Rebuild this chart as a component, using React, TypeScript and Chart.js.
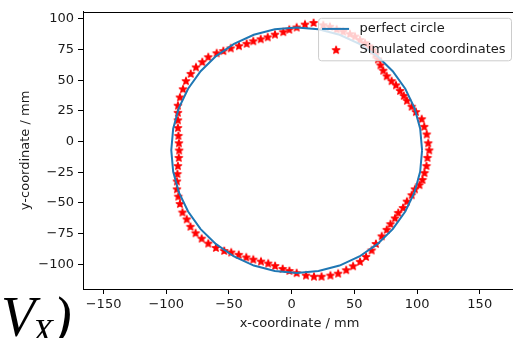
import React, { useEffect, useRef } from 'react';
import { Chart, registerables } from 'chart.js';

Chart.register(...registerables);

// Perfect circle outline (listed points)
const circleX = [104, 102.5, 98.0, 90.6, 80.6, 68.3, 54.0, 38.2, 21.4, 4.0, -13.4, -30.2, -46.0, -60.3, -72.6, -82.6, -90.0, -94.5, -96.0, -94.5, -90.0, -82.6, -72.6, -60.3, -46.0, -30.2, -13.4, 4.0, 21.4, 38.2, 54.0, 68.3, 80.6, 90.6, 98.0, 102.5, 104];
const circleY = [-7, 10.4, 27.2, 43.0, 57.3, 69.6, 79.6, 87.0, 91.5, 93.0, 91.5, 87.0, 79.6, 69.6, 57.3, 43.0, 27.2, 10.4, -7, -24.4, -41.2, -57.0, -71.3, -83.6, -93.6, -101.0, -105.5, -107.0, -105.5, -101.0, -93.6, -83.6, -71.3, -57.0, -41.2, -24.4, -7];

// Simulated coordinates
const starX = [17.5, 10.6, 4.0, -1.9, -6.7, -13.3, -19.1, -24.7, -30.6, -35.9, -42.0, -48.6, -54.5, -59.8, -66.5, -71.3, -76.3, -80.5, -84.3, -86.7, -89.1,
  -90.7, -90.7, -90.7, -90.7, -90.3, -89.9, -89.7, -90.0, -90.7, -91.1, -91.5, -91.5, -90.4,
  -89.1, -87.1, -83.7, -80.7, -76.6, -71.8, -66.5, -60.4, -53.8, -48.2, -42.2, -36.2, -30.6, -24.5, -18.7, -13.2, -7.2, -1.8, 4.0,
  11.4, 17.8, 23.8, 30.9, 37.1, 43.5, 49.0, 54.5, 59.3, 63.8, 67.2, 71.8, 75.8, 78.8, 82.4, 85.0, 88.8, 91.9, 95.7, 98.3, 101.9, 104.3, 105.9,
  107.5, 108.3, 109.7, 108.9, 107.7, 105.7, 103.7, 99.1, 95.7, 91.9, 89.4, 86.4, 83.2, 79.7, 75.8, 73.0, 70.8, 68.8, 66.8, 64.8, 61.9, 58.5, 54.5, 50.5, 46.5, 41.1, 35.9, 30.5, 25.2];
const starY = [96.6, 95.3, 92.9, 91.1, 89.1, 87.1, 84.9, 83.3, 81.7, 79.6, 77.7, 75.9, 73.7, 71.9, 68.7, 64.7, 60.4, 55.1, 49.2, 42.6, 35.9,
  29.2, 23.4, 17.3, 11.0, 4.6, -1.4, -7.3, -13.3, -20.0, -26.5, -32.5, -38.9, -44.9,
  -50.9, -57.8, -63.4, -69.4, -74.7, -79.1, -83.1, -86.7, -89.1, -90.4, -92.3, -94.4, -96.2, -97.8, -99.4, -101.4, -103.8, -105.4, -107.2,
  -109.2, -110.1, -110.1, -109.2, -107.6, -104.8, -101.6, -98.0, -94.0, -88.7, -83.4, -77.2, -71.9, -67.3, -62.6, -58.1, -54.1, -48.9, -43.7, -38.9, -35.5, -31.3, -25.7,
  -20.0, -13.3, -7.2, -1.4, 5.8, 12.0, 18.2, 24.0, 28.4, 33.2, 37.2, 41.2, 45.8, 49.2, 53.2, 57.7, 62.1, 66.9, 70.9, 74.3, 77.5, 80.1, 82.7, 85.5, 87.5, 89.5, 91.3, 93.5, 94.7];

const xTicks = [-150, -100, -50, 0, 50, 100, 150];
const yTicks = [-100, -75, -50, -25, 0, 25, 50, 75, 100];
const xRange = [-166.4, 178.9];
const yRange = [-120.1, 105.7];
const seriesLabels = ['perfect circle', 'Simulated coordinates'];

const FONT = "'DejaVu Sans', sans-serif";
const TEXT = '#1a1a1a';
const BLUE = '#1f77b4';
const RED = '#ff0000';

function makeStar(): HTMLCanvasElement {
  const c = document.createElement('canvas');
  c.width = 12;
  c.height = 12;
  const g = c.getContext('2d')!;
  g.beginPath();
  for (let k = 0; k < 10; k++) {
    const r = k % 2 === 0 ? 4.0 : 4.0 * 0.382;
    const a = -Math.PI / 2 + (k * Math.PI) / 5;
    const px = 6 + r * Math.cos(a);
    const py = 6 + r * Math.sin(a);
    if (k === 0) g.moveTo(px, py);
    else g.lineTo(px, py);
  }
  g.closePath();
  g.fillStyle = RED;
  g.fill();
  g.strokeStyle = RED;
  g.lineWidth = 1.2;
  g.lineJoin = 'round';
  g.stroke();
  return c;
}

const fmt = (v: number) => String(v).replace('-', '\u2212');

export default function App() {
  const ref = useRef<HTMLCanvasElement>(null);

  useEffect(() => {
    const canvas = ref.current!;
    const star = makeStar();

    const framePlugin = {
      id: 'frame',
      afterDraw(chart: any) {
        const { ctx, chartArea } = chart;
        ctx.save();
        ctx.strokeStyle = '#000';
        ctx.lineWidth = 1;
        ctx.beginPath();
        ctx.moveTo(chartArea.left, Math.round(chartArea.top) + 0.5);
        ctx.lineTo(chartArea.right, Math.round(chartArea.top) + 0.5);
        ctx.stroke();
        ctx.restore();
      },
    };

    const legendPlugin = {
      id: 'mplLegend',
      afterDatasetsDraw(chart: any) {
        const { ctx, chartArea } = chart;
        const labels: string[] = chart.data.datasets.map((d: any) => d.label);
        ctx.save();
        ctx.font = `13px ${FONT}`;
        const tw = Math.max(...labels.map((l) => ctx.measureText(l).width));
        const pad = 5;
        const handle = 26;
        const gap = 10;
        const w = pad + handle + gap + tw + pad + 1;
        const h = 42.5;
        const right = chartArea.right - 4.5;
        const top = chartArea.top + 6.5;
        const left = right - w;
        const r = 3;
        ctx.beginPath();
        ctx.moveTo(left + r, top);
        ctx.lineTo(right - r, top);
        ctx.arcTo(right, top, right, top + r, r);
        ctx.lineTo(right, top + h - r);
        ctx.arcTo(right, top + h, right - r, top + h, r);
        ctx.lineTo(left + r, top + h);
        ctx.arcTo(left, top + h, left, top + h - r, r);
        ctx.lineTo(left, top + r);
        ctx.arcTo(left, top, left + r, top, r);
        ctx.closePath();
        ctx.fillStyle = 'rgba(255,255,255,0.8)';
        ctx.fill();
        ctx.strokeStyle = '#cccccc';
        ctx.lineWidth = 1;
        ctx.stroke();

        const row1 = top + 10.6;
        const row2 = top + 31.8;
        ctx.strokeStyle = BLUE;
        ctx.lineWidth = 2;
        ctx.beginPath();
        ctx.moveTo(left + 3.5, row1);
        ctx.lineTo(left + 30.5, row1);
        ctx.stroke();
        ctx.drawImage(star, left + 17.5 - 6, row2 - 6);

        ctx.fillStyle = TEXT;
        ctx.textBaseline = 'middle';
        ctx.textAlign = 'left';
        ctx.fillText(labels[0], left + 41, row1);
        ctx.fillText(labels[1], left + 41, row2);
        ctx.restore();
      },
    };

    const chart = new Chart(canvas, {
      type: 'scatter',
      data: {
        datasets: [
          {
            label: seriesLabels[0],
            data: circleX.map((x, i) => ({ x, y: circleY[i] })),
            showLine: true,
            borderColor: BLUE,
            borderWidth: 2,
            pointRadius: 0,
            pointHoverRadius: 0,
            tension: 0,
            order: 1,
          },
          {
            label: seriesLabels[1],
            data: starX.map((x, i) => ({ x, y: starY[i] })),
            showLine: false,
            pointStyle: star as any,
            pointRadius: 4,
            pointHoverRadius: 4,
            backgroundColor: RED,
            borderColor: RED,
            order: 2,
          },
        ],
      },
      options: {
        responsive: false,
        animation: false,
        devicePixelRatio: 1,
        events: [],
        layout: { padding: { left: 0, top: 6, right: 14, bottom: 0 }, autoPadding: false },
        plugins: {
          legend: { display: false },
          tooltip: { enabled: false },
        },
        scales: {
          x: {
            type: 'linear',
            position: 'bottom',
            min: xRange[0],
            max: xRange[1],
            afterFit: (s: any) => { s.height = 49; },
            afterBuildTicks: (s: any) => { s.ticks = xTicks.map((v) => ({ value: v })); },
            grid: { drawOnChartArea: false, drawTicks: true, tickLength: 5, tickColor: '#000', tickWidth: 1 },
            border: { display: true, color: '#000', width: 1 },
            ticks: {
              padding: 3,
              color: TEXT,
              font: { family: FONT, size: 13 },
              maxRotation: 0,
              autoSkip: false,
              callback: (v: any) => fmt(v),
            },
            title: {
              display: true,
              text: 'x-coordinate / mm',
              color: TEXT,
              font: { family: FONT, size: 13 },
              padding: { top: 0, bottom: 7 },
            },
          },
          y: {
            type: 'linear',
            position: 'left',
            min: yRange[0],
            max: yRange[1],
            afterFit: (s: any) => { s.width = 83; },
            afterBuildTicks: (s: any) => { s.ticks = yTicks.map((v) => ({ value: v })); },
            grid: { drawOnChartArea: false, drawTicks: true, tickLength: 5, tickColor: '#000', tickWidth: 1 },
            border: { display: true, color: '#000', width: 1 },
            ticks: {
              padding: 4,
              color: TEXT,
              font: { family: FONT, size: 13 },
              autoSkip: false,
              callback: (v: any) => fmt(v),
            },
            title: {
              display: true,
              text: 'y-coordinate / mm',
              color: TEXT,
              font: { family: FONT, size: 13 },
              padding: { top: 18, bottom: 0 },
            },
          },
        },
      },
      plugins: [legendPlugin, framePlugin],
    });

    return () => chart.destroy();
  }, []);

  return (
    <div style={{ position: 'fixed', left: 0, top: 0, width: 513, height: 338, overflow: 'hidden', background: '#fff' }}>
      <canvas ref={ref} width={530} height={338} style={{ display: 'block', width: 530, height: 338 }} />
      <div
        style={{
          position: 'absolute',
          left: 1,
          top: 289,
          fontFamily: "'Liberation Serif', serif",
          fontStyle: 'italic',
          fontSize: 56,
          lineHeight: 1,
          whiteSpace: 'nowrap',
          color: '#000',
          pointerEvents: 'none',
        }}
      >
        V<span style={{ fontSize: 34, position: 'relative', top: 6, marginLeft: -3 }}>X</span>)
      </div>
    </div>
  );
}
